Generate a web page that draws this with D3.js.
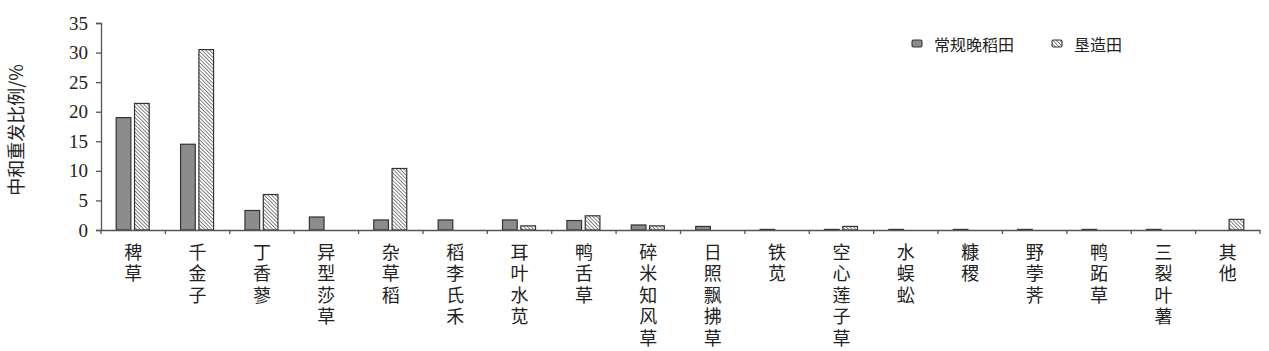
<!DOCTYPE html>
<html>
<head>
<meta charset="utf-8">
<script src="https://cdn.jsdelivr.net/npm/d3@7"></script>
<style>
  body { margin: 0; background: #fff; }
  svg { display: block; }
</style>
</head>
<body>
<svg id="chart" width="1269" height="351"></svg>
<script>
const categories = ["稗草", "千金子", "丁香蓼", "异型莎草", "杂草稻", "稻李氏禾", "耳叶水苋", "鸭舌草", "碎米知风草",
  "日照飘拂草", "铁苋", "空心莲子草", "水蜈蚣", "糠稷", "野荸荠", "鸭跖草", "三裂叶薯", "其他"];
const seriesNames = ["常规晚稻田", "垦造田"];
const lateRice = [19.0, 14.5, 3.3, 2.2, 1.7, 1.7, 1.7, 1.6, 0.85, 0.6, 0.1, 0.1, 0.1, 0.1, 0.1, 0.1, 0.1, 0];
const reclaimed = [21.4, 30.5, 6.0, 0, 10.4, 0, 0.7, 2.4, 0.7, 0, 0, 0.6, 0, 0, 0, 0, 0, 1.8];
const yTicks = [0, 5, 10, 15, 20, 25, 30, 35];

const svg = d3.select("#chart");
const serif = "'Liberation Serif', 'Times New Roman', serif";
const cjk = "'Noto Sans CJK SC', sans-serif";
const axisColor = "#555";

const defs = svg.append("defs");
const pat = defs.append("pattern")
  .attr("id", "hatch")
  .attr("patternUnits", "userSpaceOnUse")
  .attr("width", 2.6).attr("height", 2.6)
  .attr("patternTransform", "rotate(-45)");
pat.append("rect").attr("width", 2.6).attr("height", 2.6).attr("fill", "#fff");
pat.append("line").attr("x1", 0).attr("y1", 0).attr("x2", 0).attr("y2", 2.6)
  .attr("stroke", "#444").attr("stroke-width", 1.3);

const x = d3.scaleBand().domain(categories).range([101, 1260]);
const x1 = d3.scaleBand().domain(seriesNames).range([0, 33]).paddingInner(0.2);
const y = d3.scaleLinear().domain([0, 35]).range([230, 23]);

const fills = ["#8c8c8c", "url(#hatch)"];
const data = categories.map((c, i) => ({ cat: c, vals: [lateRice[i], reclaimed[i]] }));

// bars
const groups = svg.append("g").selectAll("g")
  .data(data)
  .join("g")
  .attr("transform", d => `translate(${x(d.cat) + x.bandwidth() / 2 - 17},0)`);

groups.selectAll("rect")
  .data(d => d.vals.map((v, j) => ({ s: seriesNames[j], v, j })).filter(e => e.v > 0))
  .join("rect")
  .attr("x", e => x1(e.s))
  .attr("width", x1.bandwidth())
  .attr("y", e => y(e.v))
  .attr("height", e => y(0) - y(e.v))
  .attr("fill", e => fills[e.j])
  .attr("stroke", "#333")
  .attr("stroke-width", 1.2);

// y axis
const yAxis = svg.append("g")
  .attr("transform", "translate(101,0)")
  .call(d3.axisLeft(y).tickValues(yTicks).tickSize(5).tickPadding(8));
yAxis.select(".domain").attr("stroke", axisColor).attr("stroke-width", 1.3);
yAxis.selectAll(".tick line").attr("stroke", axisColor).attr("stroke-width", 1.3);
yAxis.selectAll("text")
  .attr("font-family", serif)
  .attr("font-size", 19)
  .attr("fill", "#222");

// x axis
const xAxis = svg.append("g")
  .attr("transform", `translate(0,${y(0)})`)
  .call(d3.axisBottom(x).tickSize(0).tickFormat(""));
xAxis.select(".domain").attr("stroke", axisColor).attr("stroke-width", 1.3);
xAxis.selectAll(".tick").remove();
const bounds = x.domain().map(c => x(c)).concat([x.range()[1]]);
xAxis.selectAll("line.sep")
  .data(bounds)
  .join("line")
  .attr("class", "sep")
  .attr("x1", d => d).attr("x2", d => d)
  .attr("y1", 0).attr("y2", 4)
  .attr("stroke", axisColor).attr("stroke-width", 1.3);

// vertical category labels
svg.append("g").selectAll("text")
  .data(categories)
  .join("text")
  .attr("x", c => x(c) + x.bandwidth() / 2)
  .attr("y", 243)
  .style("writing-mode", "vertical-rl")
  .style("letter-spacing", "3.5px")
  .attr("font-family", cjk)
  .attr("font-size", 18)
  .attr("fill", "#222")
  .text(c => c);

// y axis title
svg.append("text")
  .attr("transform", "translate(23,130) rotate(-90)")
  .attr("text-anchor", "middle")
  .attr("font-family", cjk)
  .attr("font-size", 18)
  .attr("fill", "#222")
  .text("中和重发比例/%");

// legend
const legendX = [912, 1052];
const leg = svg.append("g").selectAll("g")
  .data(seriesNames)
  .join("g")
  .attr("transform", (d, i) => `translate(${legendX[i]},44)`);
leg.append("rect")
  .attr("x", 0).attr("y", -4)
  .attr("width", 10).attr("height", 7)
  .attr("rx", 1.5)
  .attr("fill", (d, i) => fills[i])
  .attr("stroke", "#333").attr("stroke-width", 1.1);
leg.append("text")
  .attr("x", 22).attr("y", 0)
  .attr("dominant-baseline", "central")
  .attr("font-family", cjk)
  .attr("font-size", 16)
  .attr("fill", "#222")
  .text(d => d);
</script>
</body>
</html>
